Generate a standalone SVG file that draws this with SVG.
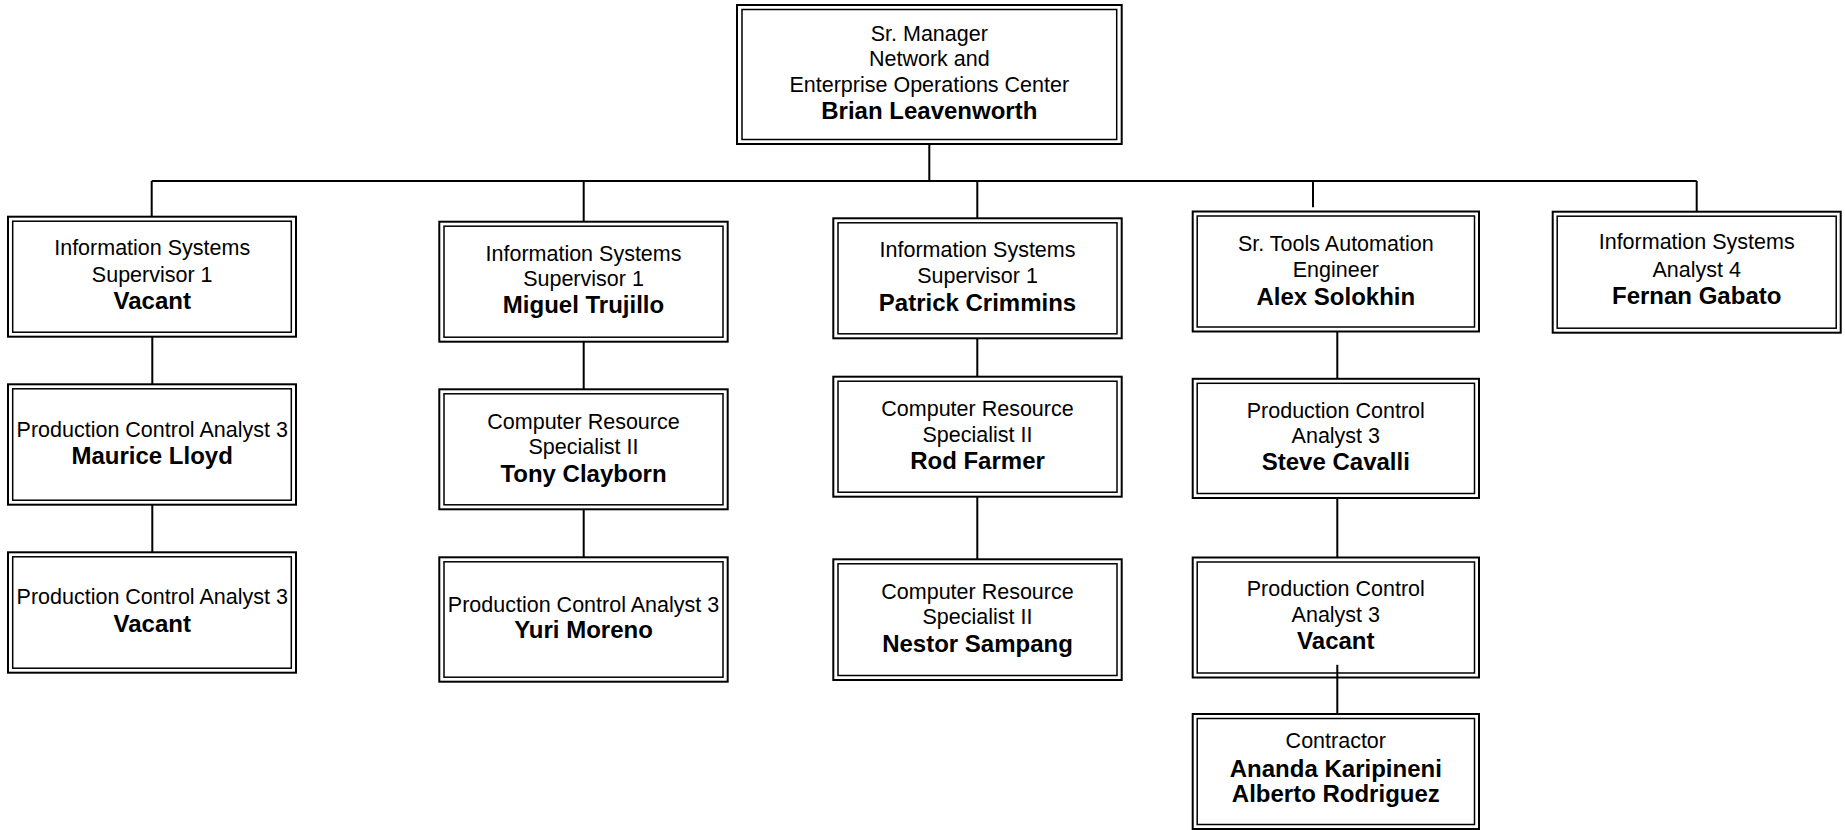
<svg xmlns="http://www.w3.org/2000/svg" width="1845" height="830" viewBox="0 0 1845 830">
<style>
.o{fill:#fff;stroke:#000;stroke-width:2}
.i{fill:none;stroke:#000;stroke-width:1.5}
.c{fill:none;stroke:#000;stroke-width:2}
text{font-family:"Liberation Sans",Arial,sans-serif;text-anchor:middle;fill:#000}
.r{font-size:21.5px}
.b{font-size:24px;font-weight:bold}
</style>
<rect width="1845" height="830" fill="#fff"/>
<g id="connectors">
<path class="c" d="M929.3,144V181M151.7,181H1696.7M151.7,181V216.7M583.7,181V221.7M977.3,181V218.3M1313,181V207.3M1696.7,181V211.7"/>
<path class="c" d="M152.3,336.7V384.3M152.3,504.7V552.3M583.7,341.7V389.3M583.7,509.3V557.3M977.3,338.3V376.7M977.3,496.7V559.3M1337.3,331.2V378.8M1337.3,498V557.5M1337.3,664.8V714"/>
</g>
<g id="n0">
<rect class="o" x="737" y="5" width="384.7" height="139"/>
<rect class="i" x="742" y="9.5" width="374.7" height="130"/>
<text class="r" x="929.3" y="40.7">Sr. Manager</text>
<text class="r" x="929.3" y="66">Network and</text>
<text class="r" x="929.3" y="91.7">Enterprise Operations Center</text>
<text class="b" x="929.3" y="119.3">Brian Leavenworth</text>
</g>
<g id="n1">
<rect class="o" x="8" y="216.7" width="288" height="120"/>
<rect class="i" x="12.7" y="221.2" width="278.6" height="111"/>
<text class="r" x="152.2" y="255">Information Systems</text>
<text class="r" x="152.2" y="281.7">Supervisor 1</text>
<text class="b" x="152.2" y="309.3">Vacant</text>
</g>
<g id="n2">
<rect class="o" x="8" y="384.3" width="288" height="120.4"/>
<rect class="i" x="12.7" y="388.8" width="278.6" height="111.4"/>
<text class="r" x="152.2" y="436.7">Production Control Analyst 3</text>
<text class="b" x="152.2" y="464.3">Maurice Lloyd</text>
</g>
<g id="n3">
<rect class="o" x="8" y="552.3" width="288" height="120.4"/>
<rect class="i" x="12.7" y="556.8" width="278.6" height="111.4"/>
<text class="r" x="152.2" y="604.3">Production Control Analyst 3</text>
<text class="b" x="152.2" y="632.3">Vacant</text>
</g>
<g id="n4">
<rect class="o" x="439.3" y="221.7" width="288.4" height="120"/>
<rect class="i" x="444" y="226.2" width="279" height="111"/>
<text class="r" x="583.5" y="260.7">Information Systems</text>
<text class="r" x="583.5" y="286">Supervisor 1</text>
<text class="b" x="583.5" y="313.3">Miguel Trujillo</text>
</g>
<g id="n5">
<rect class="o" x="439.3" y="389.3" width="288.4" height="120"/>
<rect class="i" x="444" y="393.8" width="279" height="111"/>
<text class="r" x="583.5" y="428.7">Computer Resource</text>
<text class="r" x="583.5" y="454">Specialist II</text>
<text class="b" x="583.5" y="481.7">Tony Clayborn</text>
</g>
<g id="n6">
<rect class="o" x="439.3" y="557.3" width="288.4" height="124.4"/>
<rect class="i" x="444" y="561.8" width="279" height="115.4"/>
<text class="r" x="583.5" y="612.3">Production Control Analyst 3</text>
<text class="b" x="583.5" y="638.3">Yuri Moreno</text>
</g>
<g id="n7">
<rect class="o" x="833.3" y="218.3" width="288.4" height="120"/>
<rect class="i" x="838" y="222.8" width="279" height="111"/>
<text class="r" x="977.5" y="257.3">Information Systems</text>
<text class="r" x="977.5" y="283.3">Supervisor 1</text>
<text class="b" x="977.5" y="310.7">Patrick Crimmins</text>
</g>
<g id="n8">
<rect class="o" x="833.3" y="376.7" width="288.4" height="120"/>
<rect class="i" x="838" y="381.2" width="279" height="111"/>
<text class="r" x="977.5" y="416">Computer Resource</text>
<text class="r" x="977.5" y="441.7">Specialist II</text>
<text class="b" x="977.5" y="469.3">Rod Farmer</text>
</g>
<g id="n9">
<rect class="o" x="833.3" y="559.3" width="288.4" height="120.7"/>
<rect class="i" x="838" y="563.8" width="279" height="111.7"/>
<text class="r" x="977.5" y="599">Computer Resource</text>
<text class="r" x="977.5" y="624.3">Specialist II</text>
<text class="b" x="977.5" y="652.3">Nestor Sampang</text>
</g>
<g id="n10">
<rect class="o" x="1192.7" y="211.5" width="286.3" height="120"/>
<rect class="i" x="1197.2" y="216" width="277.3" height="111"/>
<text class="r" x="1335.8" y="251.2">Sr. Tools Automation</text>
<text class="r" x="1335.8" y="276.8">Engineer</text>
<text class="b" x="1335.8" y="304.8">Alex Solokhin</text>
</g>
<g id="n11">
<rect class="o" x="1192.7" y="378.8" width="286.3" height="119.2"/>
<rect class="i" x="1197.2" y="383.3" width="277.3" height="110.2"/>
<text class="r" x="1335.8" y="418">Production Control</text>
<text class="r" x="1335.8" y="443.2">Analyst 3</text>
<text class="b" x="1335.8" y="470">Steve Cavalli</text>
</g>
<g id="n12">
<rect class="o" x="1192.7" y="557.5" width="286.3" height="120"/>
<rect class="i" x="1197.2" y="562" width="277.3" height="111"/>
<text class="r" x="1335.8" y="596">Production Control</text>
<text class="r" x="1335.8" y="622">Analyst 3</text>
<text class="b" x="1335.8" y="648.8">Vacant</text>
</g>
<g id="n13">
<rect class="o" x="1192.7" y="714" width="286.3" height="115"/>
<rect class="i" x="1197.2" y="718.5" width="277.3" height="106"/>
<text class="r" x="1335.8" y="747.7">Contractor</text>
<text class="b" x="1335.8" y="776.5">Ananda Karipineni</text>
<text class="b" x="1335.8" y="802">Alberto Rodriguez</text>
</g>
<g id="n14">
<rect class="o" x="1552.7" y="211.7" width="288" height="121"/>
<rect class="i" x="1557.2" y="216.2" width="279" height="112"/>
<text class="r" x="1696.7" y="249">Information Systems</text>
<text class="r" x="1696.7" y="277.3">Analyst 4</text>
<text class="b" x="1696.7" y="304">Fernan Gabato</text>
</g>
<path class="c" d="M1337.3,664.8V677.5"/>
</svg>
